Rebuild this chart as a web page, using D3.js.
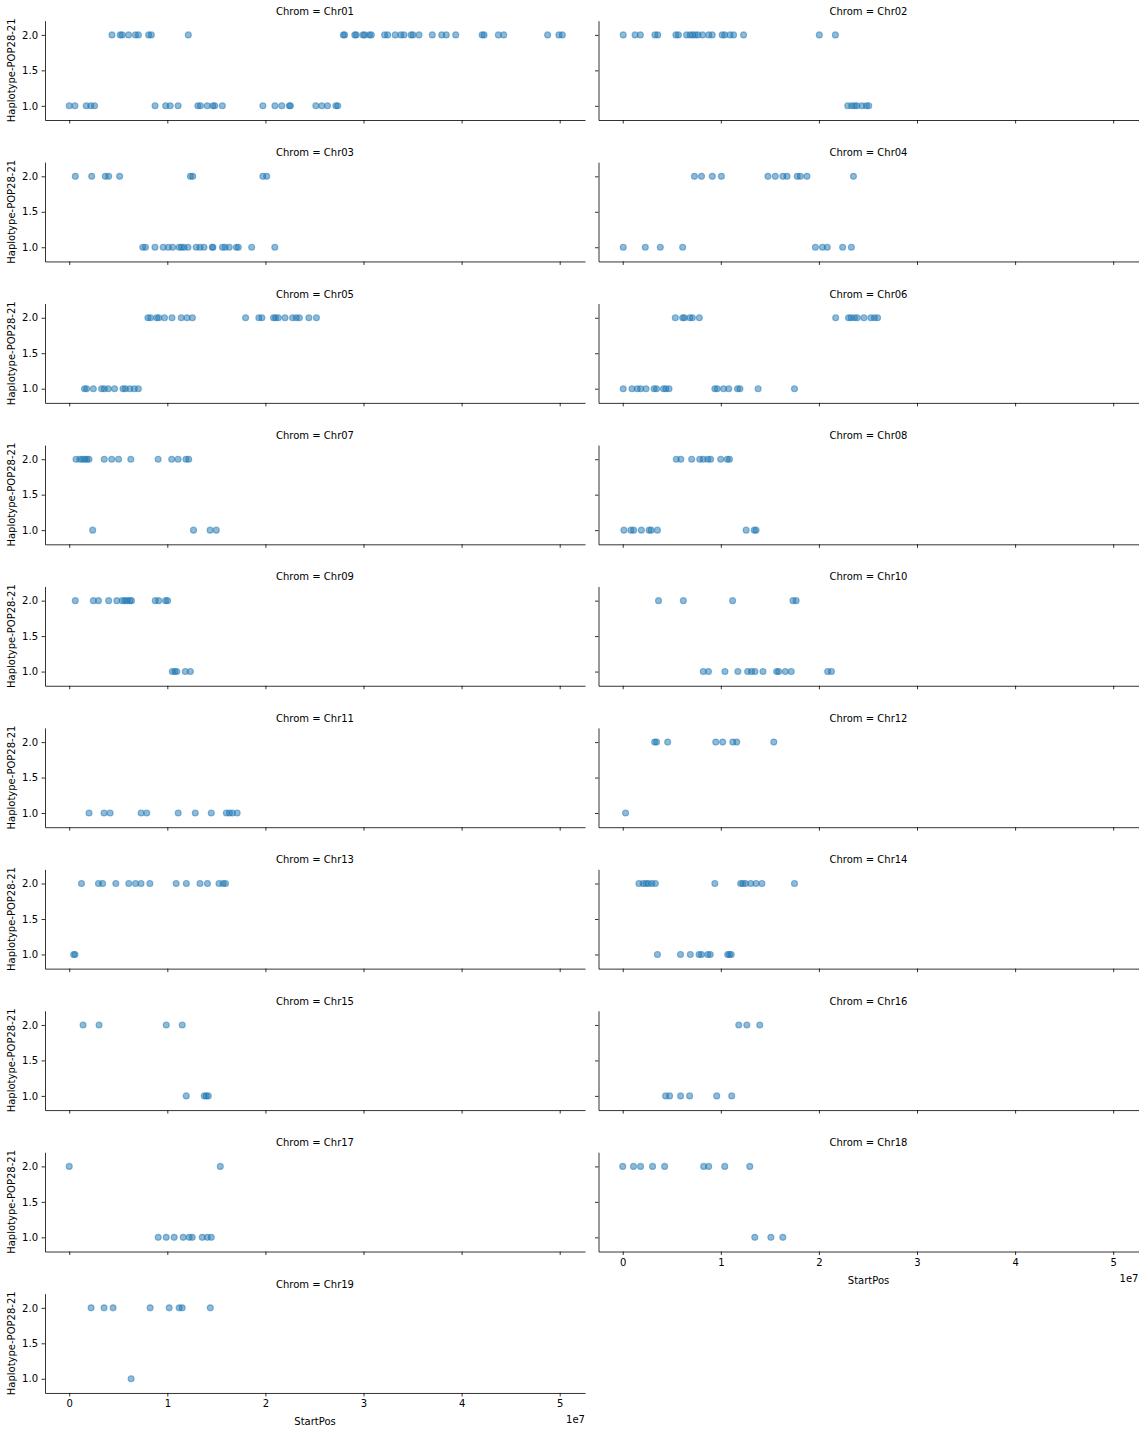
<!DOCTYPE html>
<html><head><meta charset="utf-8">
<script src="https://cdn.jsdelivr.net/npm/d3@7"></script>
<style>body{margin:0;background:#fff}</style>
</head><body><div id="chart"></div>
<script>
// StartPos values in megabases (Mb), grouped by chromosome and haplotype value
const chr01Hap2 = [4.36,5.20,5.40,6.05,6.75,7.05,8.10,8.37,12.14,27.95,28.07,29.11,29.26,29.95,30.11,30.61,30.80,32.15,32.46,33.23,33.81,34.12,34.85,35.04,35.66,37.01,37.97,38.44,39.40,42.10,42.29,43.75,44.29,48.77,49.92,50.27];
const chr01Hap1 = [0.00,0.58,1.73,2.20,2.58,8.75,9.83,10.29,11.10,13.11,13.38,14.07,14.65,14.84,15.61,19.74,20.97,21.67,22.44,22.55,25.14,25.75,26.33,27.18,27.37];
const chr02Hap2 = [0.05,1.26,1.80,3.28,3.57,5.42,5.68,6.51,6.87,7.13,7.38,7.67,8.14,8.76,9.12,10.14,10.39,10.94,11.30,12.32,20.04,21.68];
const chr02Hap1 = [22.94,23.34,23.64,23.88,24.39,24.83,25.08];
const chr03Hap2 = [0.62,2.29,3.68,4.02,5.14,12.35,12.59,19.74,20.13];
const chr03Hap1 = [7.50,7.77,8.74,9.58,10.10,10.55,11.21,11.45,11.70,12.11,12.94,13.33,13.74,14.58,14.65,15.62,15.89,16.31,17.04,17.24,18.60,20.96];
const chr04Hap2 = [7.31,8.03,9.13,10.06,14.80,15.55,16.33,16.75,17.79,18.11,18.78,23.52];
const chr04Hap1 = [0.05,2.30,3.83,6.11,19.64,20.36,20.85,22.42,23.31];
const chr05Hap2 = [8.02,8.29,8.92,9.12,9.71,10.48,11.42,12.01,12.56,17.98,19.33,19.64,20.82,21.03,21.31,22.00,22.77,23.15,23.46,24.43,25.20];
const chr05Hap1 = [1.56,1.77,2.46,3.30,3.58,3.99,4.62,5.48,5.72,6.18,6.63,7.05];
const chr06Hap2 = [5.36,6.11,6.28,6.85,7.10,7.81,21.71,23.02,23.27,23.62,23.91,24.59,25.30,25.66,25.98];
const chr06Hap1 = [0.05,0.94,1.48,1.83,2.37,3.19,3.44,4.15,4.40,4.72,9.39,9.63,10.28,10.81,11.70,11.95,13.80,17.51];
const chr07Hap2 = [0.69,1.08,1.35,1.59,1.80,2.01,3.57,4.33,5.03,6.28,9.06,10.45,11.10,11.90,12.18];
const chr07Hap1 = [2.39,12.67,14.36,14.99];
const chr08Hap2 = [5.46,5.92,7.03,7.85,8.21,8.67,8.96,9.99,10.66,10.88];
const chr08Hap1 = [0.12,0.84,1.12,1.90,2.69,2.90,3.54,12.58,13.41,13.59];
const chr09Hap2 = [0.62,2.46,2.98,4.02,4.85,5.41,5.66,5.90,6.18,6.35,8.77,9.12,9.82,10.03];
const chr09Hap1 = [10.51,10.76,10.96,11.83,12.35];
const chr10Hap2 = [3.65,6.18,11.20,17.36,17.68];
const chr10Hap1 = [8.21,8.74,10.42,11.74,12.73,13.13,13.48,14.30,15.69,15.90,16.58,17.18,20.89,21.28];
const chr11Hap2 = [];
const chr11Hap1 = [2.02,3.55,4.17,7.33,7.90,11.11,12.85,14.48,16.02,16.33,16.63,17.12];
const chr12Hap2 = [3.25,3.45,4.58,9.48,10.19,11.22,11.62,15.40];
const chr12Hap1 = [0.29];
const chr13Hap2 = [1.25,2.98,3.40,4.75,6.07,6.76,7.32,8.22,10.90,11.94,13.33,14.09,15.27,15.69,15.93];
const chr13Hap1 = [0.45,0.59];
const chr14Hap2 = [1.65,2.08,2.37,2.62,2.97,3.33,9.39,12.02,12.24,12.52,13.05,13.59,14.19,17.51];
const chr14Hap1 = [3.54,5.89,6.89,7.78,8.03,8.67,8.92,10.70,10.88,11.06];
const chr15Hap2 = [1.41,3.04,9.89,11.52];
const chr15Hap1 = [11.93,13.77,13.97,14.18];
const chr16Hap2 = [11.83,12.65,13.97];
const chr16Hap1 = [4.37,4.78,5.90,6.82,9.58,11.11];
const chr17Hap2 = [0.00,15.40];
const chr17Hap1 = [9.07,9.89,10.70,11.62,12.23,12.54,13.56,14.08,14.48];
const chr18Hap2 = [0.00,1.10,1.82,3.04,4.27,8.25,8.76,10.40,12.95];
const chr18Hap1 = [13.46,15.10,16.32];
const chr19Hap2 = [2.23,3.55,4.47,8.25,10.19,11.21,11.52,14.38];
const chr19Hap1 = [6.31];

const chroms = ["Chr01","Chr02","Chr03","Chr04","Chr05","Chr06","Chr07","Chr08","Chr09","Chr10","Chr11","Chr12","Chr13","Chr14","Chr15","Chr16","Chr17","Chr18","Chr19"];
const hap2Lists = [chr01Hap2,chr02Hap2,chr03Hap2,chr04Hap2,chr05Hap2,chr06Hap2,chr07Hap2,chr08Hap2,chr09Hap2,chr10Hap2,chr11Hap2,chr12Hap2,chr13Hap2,chr14Hap2,chr15Hap2,chr16Hap2,chr17Hap2,chr18Hap2,chr19Hap2];
const hap1Lists = [chr01Hap1,chr02Hap1,chr03Hap1,chr04Hap1,chr05Hap1,chr06Hap1,chr07Hap1,chr08Hap1,chr09Hap1,chr10Hap1,chr11Hap1,chr12Hap1,chr13Hap1,chr14Hap1,chr15Hap1,chr16Hap1,chr17Hap1,chr18Hap1,chr19Hap1];

const xTicks = [0, 1e7, 2e7, 3e7, 4e7, 5e7];
const yTicks = [1.0, 1.5, 2.0];
const xLabel = "StartPos";
const yLabel = "Haplotype-POP28-21";

// layout
const W = 1144, H = 1432;
const colX = [45, 598.5];
const axW = 540, axH = 99.3;
const top0 = 20.7, rowStep = 141.44;
const font = "DejaVu Sans, sans-serif";
const ink = "#000";

const x = d3.scaleLinear().domain([-0.247e7, 5.258e7]).range([0, axW]);
const y = d3.scaleLinear().domain([0.8, 2.2]).range([axH, 0]);

const svg = d3.select("#chart").append("svg")
  .attr("width", W).attr("height", H)
  .style("background", "#fff")
  .attr("font-family", font);

const n = chroms.length;
chroms.forEach((chrom, i) => {
  const col = i % 2, row = Math.floor(i / 2);
  const g = svg.append("g").attr("transform", `translate(${colX[col]},${top0 + row * rowStep})`);
  const isBottom = (i + 2) >= n; // last panel in its column
  const pts = hap2Lists[i].map(v => ({pos: v * 1e6, hap: 2}))
    .concat(hap1Lists[i].map(v => ({pos: v * 1e6, hap: 1})));

  // points
  g.append("g").selectAll("circle").data(pts).join("circle")
    .attr("cx", d => x(d.pos)).attr("cy", d => y(d.hap)).attr("r", 3.0)
    .attr("fill", "#1f77b4").attr("fill-opacity", 0.5)
    .attr("stroke", "#1f77b4").attr("stroke-opacity", 0.5).attr("stroke-width", 1.1);

  // x axis
  const xa = d3.axisBottom(x).tickValues(xTicks).tickSize(3.5).tickPadding(3.5).tickSizeOuter(0)
    .tickFormat(isBottom ? (d => d3.format("d")(d / 1e7)) : () => "");
  const gx = g.append("g").attr("transform", `translate(0,${axH})`).call(xa);
  // y axis
  const ya = d3.axisLeft(y).tickValues(yTicks).tickSize(3.5).tickPadding(3.5).tickSizeOuter(0)
    .tickFormat(col === 0 ? d3.format(".1f") : () => "");
  const gy = g.append("g").call(ya);
  [gx, gy].forEach(a => {
    a.selectAll("path.domain").attr("stroke", ink).attr("stroke-width", 0.8);
    a.selectAll(".tick line").attr("stroke", ink).attr("stroke-width", 0.8);
    a.selectAll(".tick text").attr("fill", ink).attr("font-size", 10).attr("font-family", font);
  });

  // title
  g.append("text").attr("x", axW / 2).attr("y", -6).attr("text-anchor", "middle")
    .attr("font-size", 10).attr("fill", ink).text(`Chrom = ${chrom}`);

  // y label
  if (col === 0) {
    g.append("text").attr("transform", `translate(-30,${axH / 2}) rotate(-90)`)
      .attr("text-anchor", "middle").attr("font-size", 10).attr("fill", ink).text(yLabel);
  }
  // x label and offset text
  if (isBottom) {
    g.append("text").attr("x", axW / 2).attr("y", axH + 32).attr("text-anchor", "middle")
      .attr("font-size", 10).attr("fill", ink).text(xLabel);
    g.append("text").attr("x", axW).attr("y", axH + 30).attr("text-anchor", "end")
      .attr("font-size", 10).attr("fill", ink).text("1e7");
  }
});
</script>
</body></html>
